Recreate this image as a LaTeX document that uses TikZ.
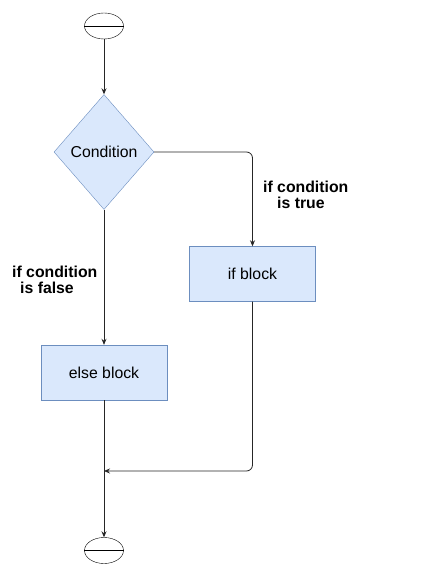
\documentclass[tikz,border=0pt]{standalone}
\usepackage{fontspec}
\setmainfont{Liberation Sans}
\usetikzlibrary{shapes.geometric,arrows.meta}
\definecolor{boxfill}{HTML}{DAE8FC}
\definecolor{boxdraw}{HTML}{6C8EBF}
\tikzset{
  blk/.style={draw=boxdraw,fill=boxfill,rectangle,minimum width=126pt,minimum height=55pt,inner sep=0pt,font=\fontsize{15.8pt}{18pt}\selectfont},
  cond/.style={draw=boxdraw,fill=boxfill,diamond,minimum width=100pt,minimum height=115pt,inner sep=0pt,aspect=0.87,font=\fontsize{15.8pt}{18pt}\selectfont},
  term/.style={draw=black,ellipse,minimum width=39pt,minimum height=26pt,inner sep=0pt},
  conn/.style={draw=black!85,line width=0.8pt,-{Stealth[length=6pt,width=5pt]}},
  lbl/.style={align=left,inner sep=0pt,anchor=north west,font=\bfseries\fontsize{15.8pt}{16.8pt}\selectfont}
}
\begin{document}
\begin{tikzpicture}[x=1pt,y=-1pt]
\useasboundingbox (0,0) rectangle (430,567);
\node[term] (start) at (104,26) {};
\draw (start.west) -- (start.east);
\node[cond] (cnd) at (104,152) {Condition};
\node[blk] (ifb) at (252.5,274) {if block};
\node[blk] (elseb) at (104,372.5) {else block};
\node[term] (stop) at (104,550.5) {};
\draw (stop.west) -- (stop.east);
\coordinate (merge) at (104,471);
\draw[conn] (start) -- (cnd);
\draw[conn,rounded corners=6pt] (cnd.east) -| (ifb.north);
\draw[conn] (cnd.south) -- (elseb.north);
\draw[draw=black!85,line width=0.8pt] (elseb.south) -- (merge);
\draw[conn] (merge) -- (stop.north);
\draw[conn,rounded corners=6pt] (ifb.south) |- (merge);
\node[lbl] (lt) at (263,180.5) {if condition\\\hspace*{14pt}is true};
\node[lbl] (lf) at (12,265.5) {if condition\\\hspace*{8pt}is false};
\end{tikzpicture}
\end{document}
